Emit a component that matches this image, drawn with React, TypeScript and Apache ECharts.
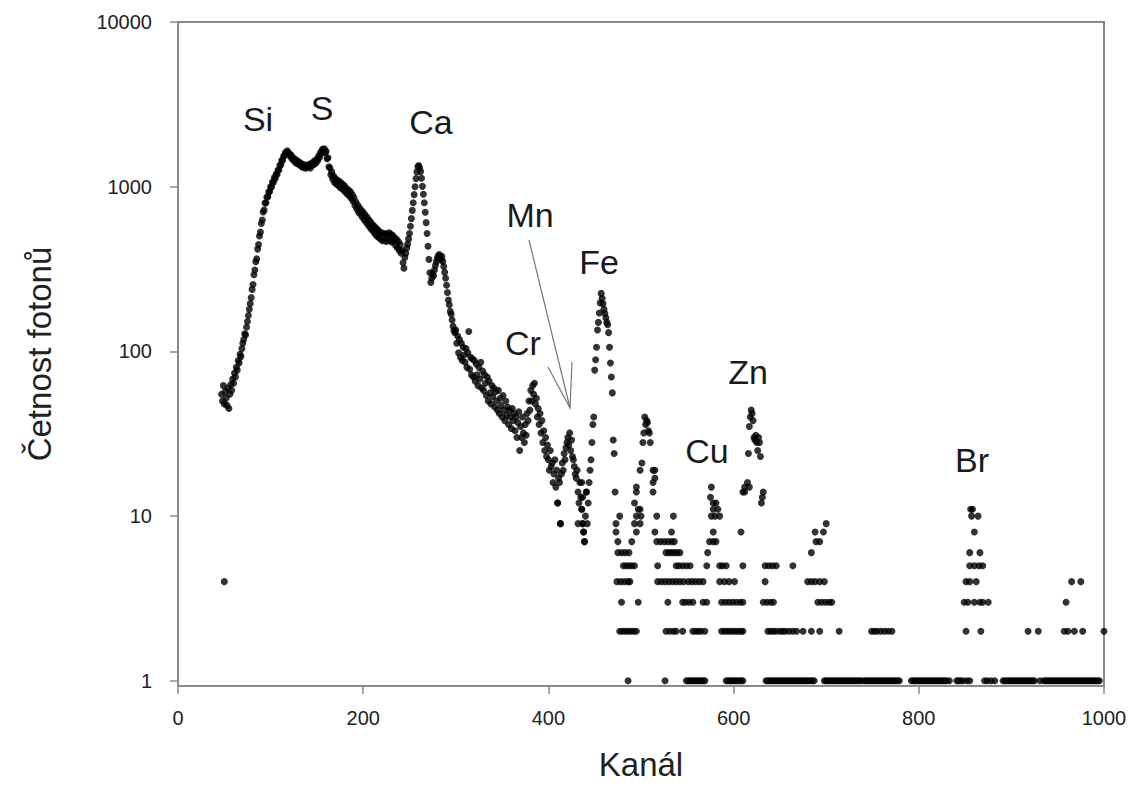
import React, { useEffect, useRef } from "react";
import * as echarts from "echarts";

// ---------- data ----------
// main continuous part of the spectrum: one count per channel, starting at channel 47
const curveStartChannel = 47;
const curveCounts = [
  55, 50, 62, 48, 57, 52, 47, 60, 45, 55, 63, 58, 68,
  64, 74, 70, 80, 77, 88, 85, 96, 93, 104,
  112, 118, 128, 126, 140, 152, 165, 180, 195, 212,
  238, 255, 292, 312, 350, 365, 418, 445, 502, 530,
  598, 628, 702, 722, 795, 800, 862, 870, 930, 935,
  1000, 995, 1068, 1060, 1135, 1120, 1195, 1185, 1262, 1265,
  1350, 1355, 1440, 1445, 1530, 1545, 1610, 1600, 1650, 1610,
  1585, 1530, 1560, 1480, 1505, 1440, 1470, 1400, 1445, 1380,
  1420, 1360, 1395, 1330, 1375, 1310, 1360, 1325, 1295, 1350,
  1315, 1365, 1330, 1300, 1385, 1345, 1410, 1370, 1440, 1395,
  1470, 1445, 1540, 1510, 1620, 1590, 1690, 1650, 1700, 1610,
  1640, 1480, 1500, 1320, 1300, 1180, 1230, 1110, 1160, 1060,
  1120, 1040, 1095, 1020, 1080, 990, 1055, 975, 1030, 950,
  1010, 925, 975, 900, 955, 880, 935, 850, 900, 815,
  860, 770, 810, 735, 775, 700, 745, 680, 720, 655,
  700, 630, 675, 610, 655, 590, 630, 570, 610, 550,
  590, 535, 575, 515, 560, 500, 545, 490, 530, 480,
  525, 470, 515, 475, 520, 465, 510, 480, 525, 470,
  515, 460, 505, 470, 490, 440, 480, 425, 465, 410,
  445, 395, 410, 345, 320, 372, 395, 425, 448, 482,
  520, 575, 640, 718, 800, 895, 1000, 1120, 1230, 1320,
  1345, 1300, 1235, 1125, 1005, 900, 800, 700, 605, 520,
  435, 362, 300, 262, 278, 298, 288, 312, 332, 350,
  368, 380, 388, 372, 360, 378, 352, 328, 302, 278,
  252, 228, 205, 192, 175, 168, 155, 142, 134, 130,
  135, 112, 124, 98, 118, 92, 112, 88, 106, 95,
  86, 104, 80, 98, 132, 78, 92, 72, 90, 70,
  88, 66, 84, 72, 62, 80, 68, 86, 60, 76,
  58, 72, 64, 54, 70, 50, 66, 56, 48, 62,
  53, 60, 46, 57, 50, 44, 58, 42, 52, 47,
  40, 54, 44, 38, 50, 41, 46, 36, 44, 40,
  34, 45, 38, 42, 33, 40, 30, 37, 43, 25,
  35, 30, 40, 32, 28, 36, 31, 42, 38, 50,
  44, 58, 50, 62, 55, 64, 48, 52, 40, 45,
  36, 42, 32, 38, 28, 33, 25, 30, 23, 27,
  22, 19, 25, 20, 21, 16, 18, 22, 15, 19,
  12, 17, 16, 9, 18, 21, 19, 24, 22, 26,
  28, 30, 27, 32, 25, 29, 23, 22, 20, 18,
  17, 19, 14, 12, 16, 13, 11, 9, 8, 7,
  10, 14, 9, 12, 16, 19, 22, 28, 36, 40,
  77, 89, 106, 135, 150, 171, 197, 225, 210, 195,
  180, 170, 160, 150, 145, 130, 106, 85, 70, 56,
  29, 24,
];

// sparse tail: channels where a given (low) count was recorded
const levelCounts = [1, 2, 3, 4, 5, 6, 7, 8, 9, 10, 11, 12, 13, 14, 15, 16, 17, 19, 21];
const levelChannels = [
  // 1
  [486, 526, 549, 551, 553, 555, 557, 559, 561, 563, 565, 567, 569, 592, 594, 596, 598, 600, 602, 604, 606, 608, 610,
    635, 637, 639, 641, 643, 645, 647, 649, 651, 653, 655, 657, 659, 661, 663, 665, 667, 669, 671, 673, 675, 677, 679,
    681, 683, 685, 687, 698, 700, 702, 704, 706, 708, 710, 712, 714, 716, 718, 720, 722, 724, 726, 728, 730, 732, 734,
    736, 738, 741, 743, 745, 747, 749, 751, 753, 755, 757, 759, 761, 763, 765, 767, 769, 771, 773, 775, 777, 779, 792,
    794, 796, 798, 800, 802, 804, 806, 808, 810, 812, 814, 816, 818, 820, 822, 824, 826, 828, 830, 833, 841, 843, 845,
    848, 852, 855, 871, 874, 878, 882, 891, 893, 895, 897, 899, 901, 903, 905, 907, 909, 911, 913, 915, 917, 919, 921,
    923, 925, 931, 935, 937, 939, 941, 943, 945, 947, 949, 951, 953, 955, 957, 959, 961, 963, 965, 967, 969, 971, 973,
    975, 977, 979, 981, 983, 985, 987, 989, 991, 993, 995],
  // 2
  [477, 480, 483, 486, 489, 492, 495, 527, 531, 535, 538, 545, 556, 559, 562, 565, 569, 587, 590, 593, 596, 599, 602,
    605, 608, 610, 637, 640, 643, 646, 650, 653, 656, 660, 664, 668, 675, 684, 693, 714, 749, 752, 755, 759, 763, 767,
    771, 851, 867, 918, 929, 957, 961, 968, 977, 1000],
  // 3
  [479, 497, 529, 545, 548, 552, 556, 567, 571, 587, 591, 595, 599, 603, 607, 610, 632, 636, 640, 643, 691, 695, 699,
    703, 706, 849, 853, 860, 866, 869, 875, 959],
  // 4
  [50, 474, 478, 482, 486, 488, 518, 522, 526, 530, 534, 538, 542, 546, 551, 555, 559, 563, 567, 585, 590, 595, 601,
    634, 680, 684, 688, 693, 698, 851, 855, 862, 965, 975],
  // 5
  [481, 484, 487, 490, 493, 518, 538, 541, 545, 549, 553, 571, 585, 588, 592, 610, 634, 638, 642, 646, 664, 855, 860,
    865, 869],
  // 6
  [475, 479, 483, 487, 527, 530, 533, 536, 539, 542, 572, 684, 855, 866],
  // 7
  [439, 475, 490, 517, 521, 525, 529, 533, 536, 574, 578, 581, 689, 693],
  // 8
  [438, 473, 495, 515, 533, 578, 608, 688, 697, 860],
  // 9
  [413, 432, 437, 473, 493, 499, 700],
  // 10
  [477, 495, 500, 517, 535, 576, 580, 585, 857, 864],
  // 11
  [436, 497, 499, 578, 583, 856, 858],
  // 12
  [410, 493, 578, 581, 630],
  // 13
  [437, 575],
  // 14
  [441, 472, 495, 513, 610, 612, 632],
  // 15
  [495, 576, 612, 617],
  // 16
  [436, 513, 615],
  // 17
  [515],
  // 19
  [499, 513, 515],
  // 21
  [501],
];

// small peaks (Fe K-beta, Zn)
const peakChannels = [502, 503, 504, 505, 506, 507, 508, 509, 510, 616, 617, 618, 619, 620, 621, 622, 623, 624, 625, 626, 627, 628, 629, 631];
const peakCounts = [28, 32, 40, 36, 38, 37, 33, 32, 28, 24, 35, 40, 44, 42, 38, 30, 29, 31, 28, 25, 30, 28, 23, 13];

const yTickValues = [1, 10, 100, 1000, 10000];

// ---------- chart ----------
const FONT = '"Liberation Sans", Arial, Helvetica, sans-serif';
const AXIS_GRAY = "#8a8a8a";

function buildPoints(): number[][] {
  const pts: number[][] = [];
  curveCounts.forEach((c, i) => pts.push([curveStartChannel + i, c]));
  levelChannels.forEach((chs, li) => chs.forEach((ch) => pts.push([ch, levelCounts[li]])));
  peakChannels.forEach((ch, i) => pts.push([ch, peakCounts[i]]));
  return pts;
}

function label(text: string, x: number, y: number) {
  return {
    type: "text",
    x,
    y,
    silent: true,
    style: {
      text,
      fill: "#1a1a1a",
      font: `34px ${FONT}`,
      textAlign: "center",
      textVerticalAlign: "middle",
      align: "center",
      verticalAlign: "middle",
    },
  };
}

export default function App() {
  const ref = useRef<HTMLDivElement>(null);

  useEffect(() => {
    if (!ref.current) return;
    const chart = echarts.init(ref.current, null, { renderer: "svg" });
    const option: any = {
      animation: false,
      backgroundColor: "#ffffff",
      grid: {
        left: 178,
        right: 32,
        top: 22,
        bottom: 116,
        show: true,
        borderColor: AXIS_GRAY,
        borderWidth: 2,
        backgroundColor: "transparent",
      },
      xAxis: {
        type: "value",
        min: 0,
        max: 1000,
        interval: 200,
        axisLine: { show: true, lineStyle: { color: AXIS_GRAY, width: 2 } },
        axisTick: { show: true, inside: false, length: 8, lineStyle: { color: AXIS_GRAY, width: 1.5 } },
        axisLabel: {
          margin: 22,
          fontSize: 20,
          color: "#222",
          fontFamily: FONT,
          formatter: (v: number) => String(v),
        },
        splitLine: { show: false },
        name: "Kanál",
        nameLocation: "middle",
        nameGap: 62,
        nameTextStyle: { fontSize: 33, color: "#222", fontFamily: FONT },
      },
      yAxis: {
        type: "log",
        logBase: 10,
        min: 0.93,
        max: 10000,
        axisLine: { show: true, lineStyle: { color: AXIS_GRAY, width: 2 } },
        axisTick: {
          show: true,
          inside: false,
          length: 8,
          customValues: yTickValues,
          lineStyle: { color: AXIS_GRAY, width: 1.5 },
        },
        axisLabel: {
          margin: 26,
          fontSize: 20,
          color: "#222",
          fontFamily: FONT,
          customValues: yTickValues,
          formatter: (v: number) => {
            const l = Math.log10(v);
            return Math.abs(l - Math.round(l)) < 1e-6 ? String(Math.round(v)) : "";
          },
        },
        splitLine: { show: false },
        minorTick: { show: false },
        name: "Četnost fotonů",
        nameLocation: "middle",
        nameGap: 122,
        nameTextStyle: { fontSize: 33, color: "#222", fontFamily: FONT },
      },
      series: [
        {
          type: "scatter",
          symbol: "circle",
          symbolSize: 7,
          itemStyle: { color: "#000000" },
          data: buildPoints(),
          silent: true,
        },
      ],
      graphic: [
        label("Si", 258, 119),
        label("S", 322, 108),
        label("Ca", 431, 122),
        label("Mn", 530, 215),
        label("Fe", 599, 262),
        label("Cr", 523, 343),
        label("Zn", 748, 372),
        label("Cu", 707, 451),
        label("Br", 972, 460),
        {
          type: "line",
          silent: true,
          shape: { x1: 529, y1: 240, x2: 570, y2: 408 },
          style: { stroke: "#777", lineWidth: 1.2 },
        },
        {
          type: "polyline",
          silent: true,
          shape: { points: [[548, 367], [570, 408], [572, 362]] },
          style: { stroke: "#777", lineWidth: 1.2, fill: null },
        },
      ],
    };
    chart.setOption(option);
    return () => chart.dispose();
  }, []);

  return (
    <div
      ref={ref}
      style={{ position: "fixed", left: 0, top: 0, width: 1136, height: 802, background: "#fff" }}
    />
  );
}
